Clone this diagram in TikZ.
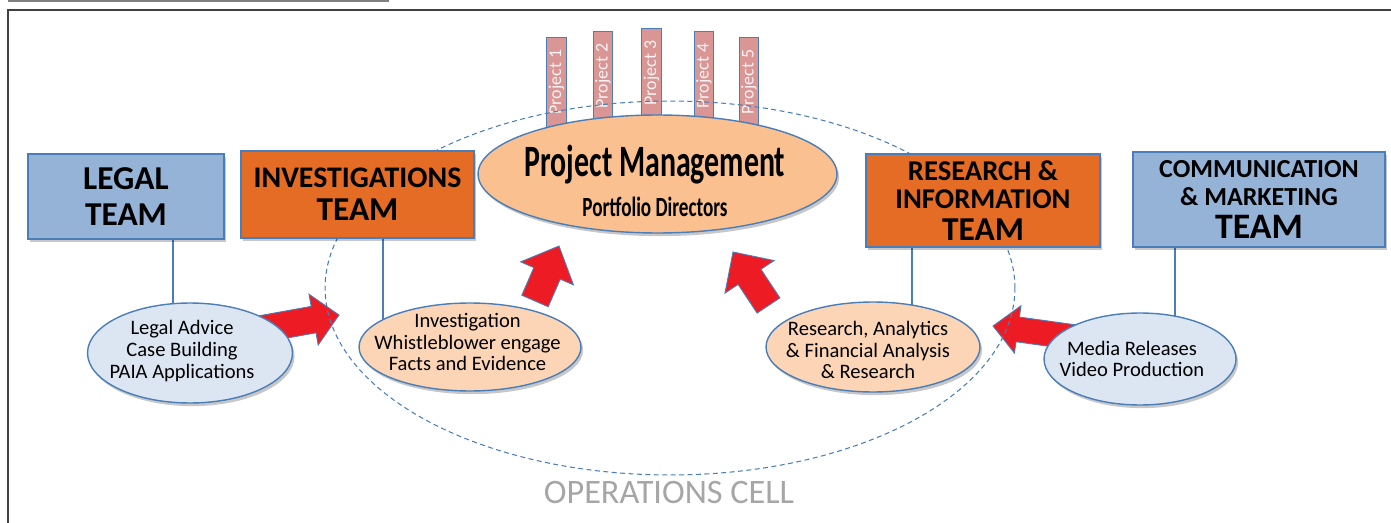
\documentclass[tikz,border=0pt]{standalone}
\usepackage{fontspec}
\usepackage{graphicx}
\setmainfont{Carlito}
\usetikzlibrary{calc,shapes.geometric,shadows}
\definecolor{boxblue}{HTML}{95B3D7}
\definecolor{boxorange}{HTML}{E46C24}
\definecolor{borderblue}{HTML}{4A7EBB}
\definecolor{lightblue}{HTML}{DCE6F2}
\definecolor{peach}{HTML}{FBD5B5}
\definecolor{pmorange}{HTML}{FAC090}
\definecolor{barpink}{HTML}{D99694}
\definecolor{barwhite}{HTML}{F4F4F4}
\definecolor{arrowred}{HTML}{ED1C24}
\definecolor{opgray}{HTML}{A6A6A6}
\definecolor{framegray}{HTML}{404040}
\definecolor{topgray}{HTML}{7F7F7F}
\pgfdeclarelayer{bg}
\pgfsetlayers{bg,main}
\tikzset{
  softshadow/.style={drop shadow={shadow xshift=1.2pt, shadow yshift=-1.8pt, opacity=0.22, fill=black}},
  teambox/.style={rectangle, draw=borderblue, line width=0.8pt, align=center, inner sep=0pt, softshadow},
  blueteam/.style={teambox, fill=boxblue},
  orangeteam/.style={teambox, fill=boxorange},
  oval/.style={ellipse, draw=borderblue, line width=0.8pt, inner sep=0pt, softshadow},
  ovaltext/.style={align=center, inner sep=0pt, font=\fontsize{11.7}{12.4}\selectfont},
  conn/.style={draw=borderblue, line width=1.1pt},
  redarrow/.style={fill=arrowred, draw=borderblue, line width=0.5pt, line join=miter},
  projbar/.style={rectangle, draw=borderblue, line width=0.6pt, fill=barpink, minimum width=0.39cm, inner sep=0pt, anchor=north},
  bartext/.style={rotate=90, text=barwhite, inner sep=0pt, font=\fontsize{10.2}{10}\selectfont},
}
\newcommand\blockarrow[5]{%
  \coordinate (tmpB) at ($(#2)!#5!(#1)$);
  \filldraw[redarrow] ($(#1)!#3!90:(#2)$) -- ($(tmpB)!#3!-90:(#1)$) -- ($(tmpB)!#4!-90:(#1)$) -- (#2) -- ($(tmpB)!#4!90:(#1)$) -- ($(tmpB)!#3!90:(#1)$) -- ($(#1)!#3!-90:(#2)$) -- cycle;}
\begin{document}
\begin{tikzpicture}[x=0.02cm,y=-0.02cm]
\useasboundingbox (0,0) rectangle (1391,523);

% team boxes
\node[blueteam, minimum width=3.92cm, minimum height=1.70cm, font=\bfseries\fontsize{19}{20.4}\selectfont] (legal) at (126,196.5) {LEGAL\\TEAM};
\node[orangeteam, minimum width=4.66cm, minimum height=1.74cm, font=\bfseries\fontsize{17}{18.7}\selectfont] (inv) at (357.5,194.5) {INVESTIGATIONS\\{\fontsize{19}{18.7}\selectfont TEAM}};
\node[orangeteam, minimum width=4.68cm, minimum height=1.86cm, font=\bfseries\fontsize{16.3}{15.9}\selectfont] (res) at (983,200.5) {RESEARCH \&\\INFORMATION\\[2.2pt]{\fontsize{19}{15.9}\selectfont TEAM}};
\node[blueteam, minimum width=5.04cm, minimum height=1.90cm, font=\bfseries\fontsize{14.8}{15.9}\selectfont] (comm) at (1259,199.5) {COMMUNICATION\\\& MARKETING\\[3.4pt]{\fontsize{20.4}{15.9}\selectfont TEAM}};

% task ellipses
\node[oval, fill=lightblue, minimum width=4.10cm, minimum height=2.00cm] (legalE) at (190,353) {};
\node[ovaltext] (legalT) at (182,351) {Legal Advice\\Case Building\\PAIA Applications};
\node[oval, fill=peach, minimum width=4.44cm, minimum height=1.76cm] (invE) at (470,347) {};
\node[ovaltext] (invT) at (467.5,342) {Investigation\\Whistleblower engage\\Facts and Evidence};
\node[oval, fill=peach, minimum width=4.28cm, minimum height=1.80cm] (resE) at (873,347) {};
\node[ovaltext] (resT) at (868,350) {Research, Analytics\\\& Financial Analysis\\\& Research};
\node[oval, fill=lightblue, minimum width=3.84cm, minimum height=1.84cm] (mediaE) at (1140,359) {};
\node[ovaltext] (mediaT) at (1132,359) {Media Releases\\Video Production};

% project management
\node[oval, fill=pmorange, minimum width=7.18cm, minimum height=2.36cm] (pm) at (657.5,174) {};
\node[align=center, inner sep=0pt, font=\bfseries\fontsize{25.5}{22.7}\selectfont] (pmT) at (655,180.5) {\scalebox{0.667}[1]{Project Management}\\\scalebox{0.69}[1]{\fontsize{15.8}{15.8}\selectfont Portfolio Directors}};

% operations label
\node[inner sep=0pt, text=opgray, font=\fontsize{19.5}{20}\selectfont] (opsT) at (669,492.5) {OPERATIONS CELL};

\begin{pgfonlayer}{bg}
  % frame
  \draw[framegray, line width=1.1pt] (8,523) -- (8,10) -- (1391,10);
  \draw[topgray, line width=0.8pt] (8,1) -- (389,1);
  % connectors
  \coordinate (lx) at (173,0);
  \coordinate (ix) at (383,0);
  \coordinate (rx) at (912,0);
  \coordinate (cx) at (1175,0);
  \draw[conn] (legal.south -| lx) -- (legalE.center -| lx);
  \draw[conn] (inv.south -| ix) -- (invE.center -| ix);
  \draw[conn] (res.south -| rx) -- (resE.center -| rx);
  \draw[conn] (comm.south -| cx) -- (mediaE.center -| cx);
  % red block arrows
  \coordinate (a1t) at (245,332); \coordinate (a1h) at (339,315);
  \blockarrow{a1t}{a1h}{7.65pt}{14.7pt}{14.7pt}
  \coordinate (a2t) at (535,301); \coordinate (a2h) at (559,246);
  \blockarrow{a2t}{a2h}{8.2pt}{16.4pt}{17pt}
  \coordinate (a3t) at (768.5,305.5); \coordinate (a3h) at (733,252);
  \blockarrow{a3t}{a3h}{7.8pt}{16.8pt}{17pt}
  \coordinate (a4t) at (1087,339); \coordinate (a4h) at (993,326);
  \blockarrow{a4t}{a4h}{7.1pt}{13.6pt}{14.2pt}
  % project bars
  \node[projbar, minimum height=2.26cm] (b1) at (556.5,37) {};
  \node[projbar, minimum height=2.38cm] (b2) at (603,31) {};
  \node[projbar, minimum height=2.44cm] (b3) at (651.5,28) {};
  \node[projbar, minimum height=2.38cm] (b4) at (704,31) {};
  \node[projbar, minimum height=2.26cm] (b5) at (749,37) {};
  \node[bartext] (p1) at (556.5,82) {Project 1};
  \node[bartext] (p2) at (603,76) {Project 2};
  \node[bartext] (p3) at (651.5,73) {Project 3};
  \node[bartext] (p4) at (704,76) {Project 4};
  \node[bartext] (p5) at (749,82) {Project 5};
  % operations cell
  \node[ellipse, draw=borderblue, line width=0.6pt, dash pattern=on 2.8pt off 2pt, minimum width=13.8cm, minimum height=7.48cm, inner sep=0pt] (ops) at (670,288) {};
\end{pgfonlayer}
\end{tikzpicture}
\end{document}
